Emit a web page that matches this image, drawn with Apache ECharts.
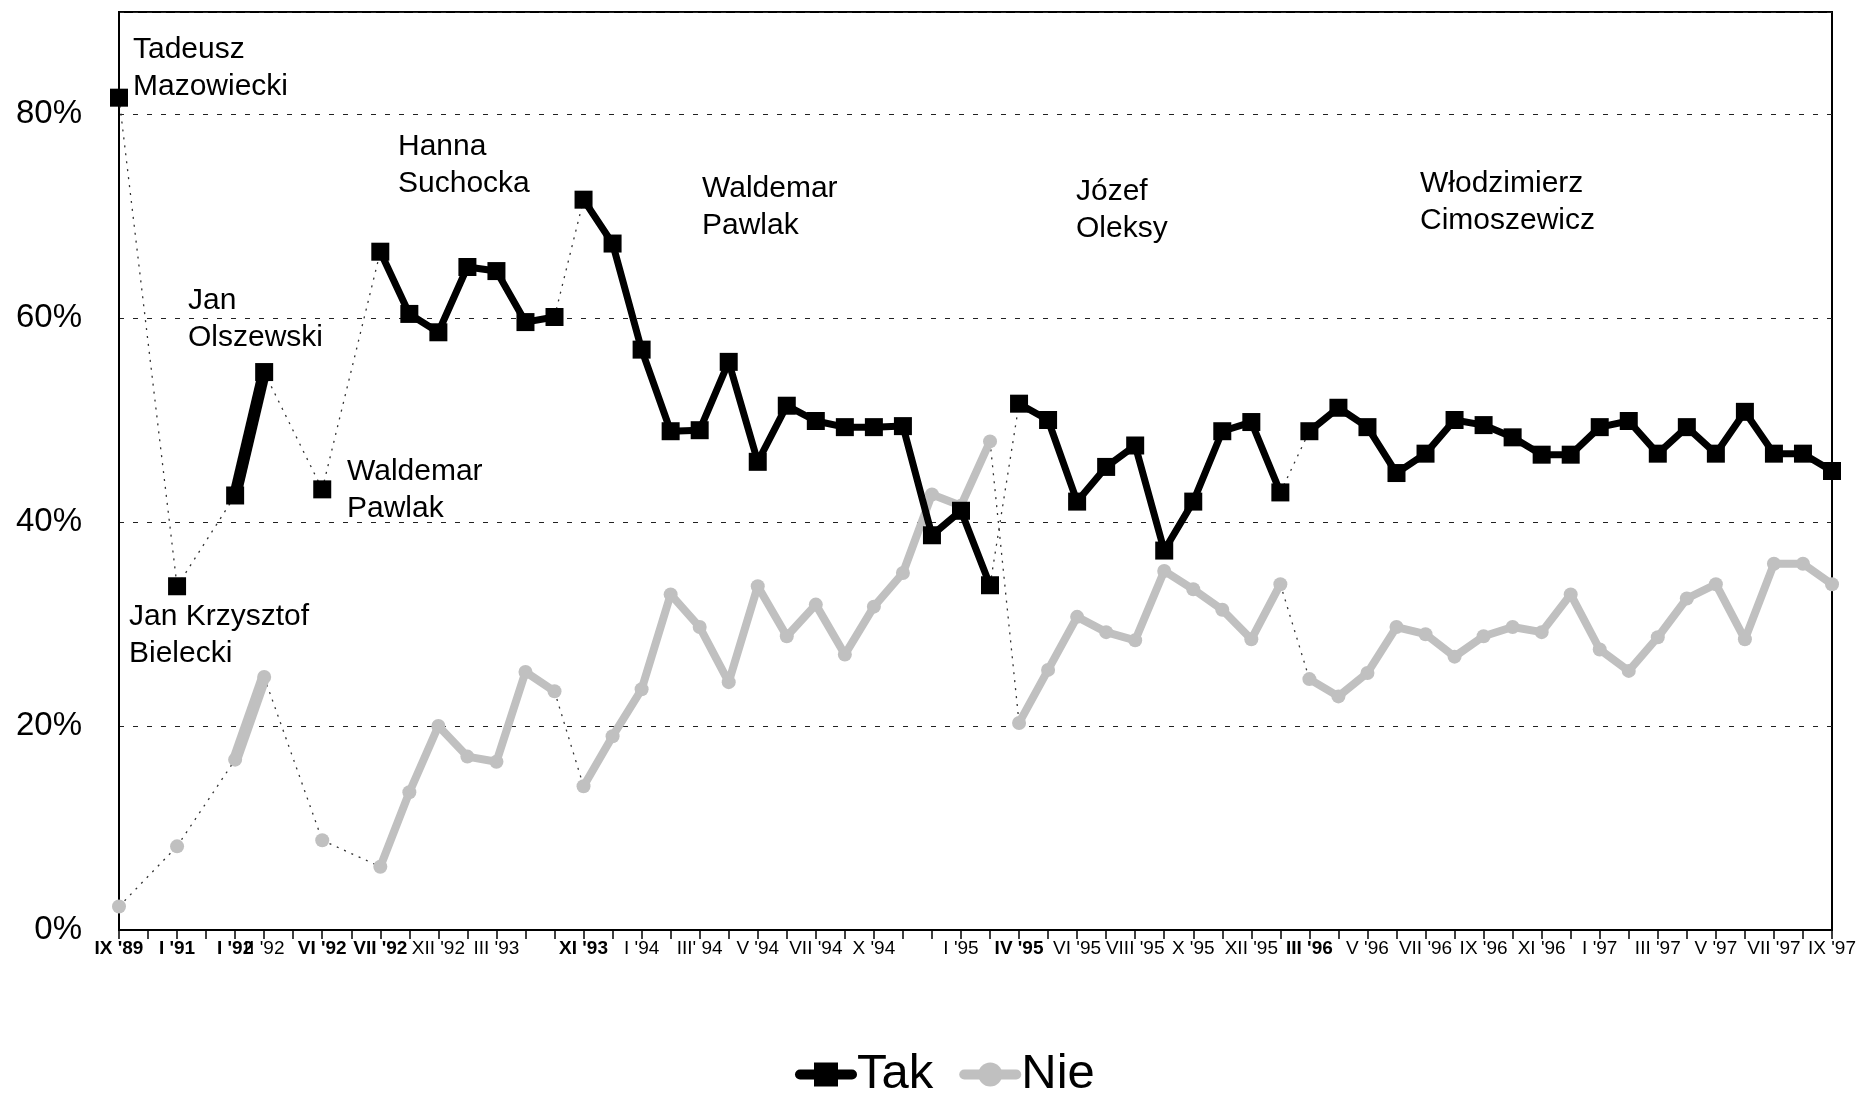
<!DOCTYPE html>
<html>
<head>
<meta charset="utf-8">
<script src="https://cdn.jsdelivr.net/npm/echarts@6/dist/echarts.min.js"></script>
<style>
html,body{margin:0;padding:0;background:#fff;}
#chart{width:1863px;height:1095px;}
</style>
</head>
<body>
<div id="chart"></div>
<script>
// ---- DATA ----
const categories = ["IX '89","","I '91","","I '92","II '92","","VI '92","","VII '92",
  "","XII '92","","III '93","","","XI '93","","I '94","",
  "III' 94","","V '94","","VII '94","","X '94","","","I '95",
  "","IV '95","","VI '95","","VIII '95","","X '95","","XII '95",
  "","III '96","","V '96","","VII '96","","IX '96","","XI '96",
  "","I '97","","III '97","","V '97","","VII '97","","IX '97"];
const boldLabels = ["IX '89","I '91","I '92","VI '92","VII '92","XI '93","IV '95","III '96"];
const tak = [81.6,null,33.7,null,42.6,54.7,null,43.2,null,66.5,
  60.4,58.6,65.0,64.6,59.6,60.1,71.6,67.3,56.9,48.9,
  49.0,55.7,45.9,51.4,49.9,49.3,49.3,49.4,38.7,41.1,
  33.8,51.6,50.0,42.0,45.4,47.5,37.2,42.0,48.9,49.8,
  42.9,48.9,51.2,49.3,44.8,46.7,50.0,49.5,48.3,46.6,
  46.6,49.3,49.9,46.7,49.3,46.7,50.8,46.7,46.7,45.0];
const nie = [2.3,null,8.2,null,16.7,24.8,null,8.8,null,6.2,
  13.5,20.0,17.0,16.5,25.3,23.4,14.1,19.0,23.6,32.9,
  29.7,24.3,33.7,28.8,31.9,27.0,31.7,35.0,42.7,41.6,
  47.9,20.3,25.5,30.7,29.2,28.4,35.2,33.4,31.4,28.5,
  33.9,24.6,22.9,25.2,29.7,29.0,26.8,28.8,29.7,29.2,
  32.9,27.5,25.4,28.7,32.5,33.9,28.5,35.9,35.9,33.9];
// government periods: [first index, last index]
const govStart = [0, 2, 4, 7, 9, 16, 31, 41];
const govEnd   = [0, 2, 5, 7, 15, 30, 40, 59];
const govNames = ["Tadeusz\nMazowiecki","Jan Krzysztof\nBielecki","Jan\nOlszewski","Waldemar\nPawlak",
  "Hanna\nSuchocka","Waldemar\nPawlak","Józef\nOleksy","Włodzimierz\nCimoszewicz"];
const yTicks = [0, 20, 40, 60, 80];

// ---- LAYOUT ----
const FONT = "'Liberation Sans', Arial, Helvetica, sans-serif";
const annPos = [[133,31],[129,598],[188,282],[347,453],[398,128],[702,170],[1076,173],[1420,165]];

function segData(arr, a, b) {
  return arr.map((v, i) => (i >= a && i <= b ? v : null));
}
function pairData(arr, a, b) {
  return arr.map((v, i) => (i === a || i === b ? v : null));
}

const series = [];
// Nie (gray) first so Tak is drawn on top
for (let k = 0; k < govStart.length; k++) {
  const thick = govStart[k] === 4;
  series.push({
    name: 'Nie', type: 'line', data: segData(nie, govStart[k], govEnd[k]),
    symbol: 'circle', symbolSize: 14, showAllSymbol: true, z: 3,
    lineStyle: { color: '#c0c0c0', width: thick ? 12 : 8 },
    itemStyle: { color: '#c0c0c0' }, connectNulls: false
  });
}
for (let k = 0; k < govStart.length - 1; k++) {
  series.push({
    name: 'nie-link', type: 'line', data: pairData(nie, govEnd[k], govStart[k + 1]),
    symbol: 'none', connectNulls: true, z: 2, silent: true,
    lineStyle: { color: '#333', width: 1.3, type: [2, 6] }
  });
  series.push({
    name: 'tak-link', type: 'line', data: pairData(tak, govEnd[k], govStart[k + 1]),
    symbol: 'none', connectNulls: true, z: 2, silent: true,
    lineStyle: { color: '#333', width: 1.3, type: [2, 6] }
  });
}
for (let k = 0; k < govStart.length; k++) {
  const thick = govStart[k] === 4;
  series.push({
    name: 'Tak', type: 'line', data: segData(tak, govStart[k], govEnd[k]),
    symbol: 'rect', symbolSize: 18, showAllSymbol: true, z: 4,
    lineStyle: { color: '#000', width: thick ? 12 : 7 },
    itemStyle: { color: '#000' }, connectNulls: false
  });
}

const graphics = govNames.map((t, k) => ({
  type: 'text', left: annPos[k][0], top: annPos[k][1], z: 10,
  style: { text: t, fontSize: 30, fontFamily: FONT, fill: '#000', lineHeight: 37 }
}));

const chart = echarts.init(document.getElementById('chart'), null, { renderer: 'canvas' });
chart.setOption({
  animation: false,
  backgroundColor: '#fff',
  grid: { left: 119, right: 31, top: 12, bottom: 165, show: true, borderColor: '#000', borderWidth: 2, containLabel: false },
  legend: {
    data: ['Tak', 'Nie'], left: 790, top: 1045, itemWidth: 52, itemHeight: 30, itemGap: 26,
    lineStyle: { width: 10, cap: 'round' },
    textStyle: { fontSize: 49, fontFamily: FONT, color: '#000' }
  },
  xAxis: {
    type: 'category', data: categories, boundaryGap: false,
    axisLine: { show: true, lineStyle: { color: '#000', width: 2 } },
    axisTick: { show: true, interval: 0, length: 9, lineStyle: { color: '#000', width: 1.5 } },
    axisLabel: {
      interval: 0, margin: 9, fontSize: 19, fontFamily: FONT, color: '#000',
      formatter: v => (boldLabels.indexOf(v) >= 0 ? '{b|' + v + '}' : v),
      rich: { b: { fontWeight: 'bold', fontSize: 19, fontFamily: FONT, color: '#000' } }
    },
    splitLine: { show: false }
  },
  yAxis: {
    type: 'value', min: 0, max: 90, interval: 20,
    axisLine: { show: true, lineStyle: { color: '#000', width: 2 } },
    axisTick: { show: false },
    axisLabel: {
      fontSize: 33, fontFamily: FONT, color: '#000', margin: 37,
      formatter: v => (yTicks.indexOf(v) >= 0 ? v + '%' : '')
    },
    splitLine: { show: true, lineStyle: { color: '#222', width: 1, type: [5, 9] } }
  },
  graphic: graphics,
  series: series
});
</script>
</body>
</html>
